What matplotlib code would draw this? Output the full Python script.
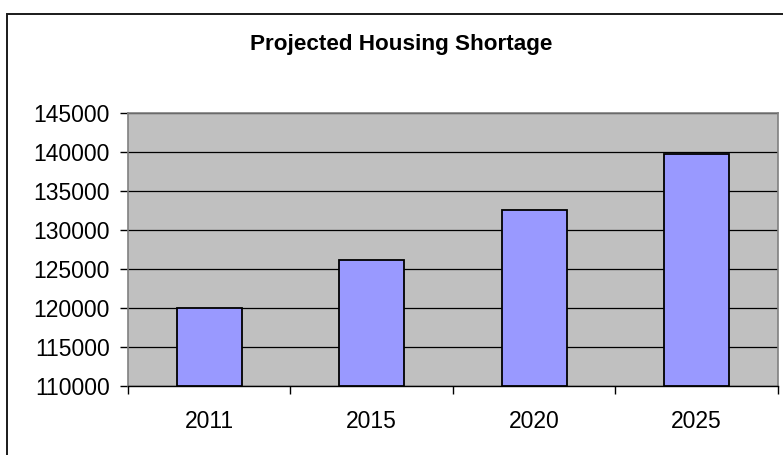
import matplotlib
matplotlib.use("Agg")
from matplotlib import pyplot as plt
from matplotlib.patches import Rectangle
from matplotlib.ticker import FixedLocator, NullFormatter

years = ["2011", "2015", "2020", "2025"]
shortage = [120000, 126150, 132600, 139750]
y_ticks = [110000, 115000, 120000, 125000, 130000, 135000, 140000, 145000]

BAR_COLOR = "#9999FF"
PLOT_BG = "#C0C0C0"

plt.rcParams["font.family"] = ["Liberation Sans", "DejaVu Sans"]

fig = plt.figure(figsize=(7.83, 4.55), dpi=100)
ax = fig.add_axes([0.1635, 0.1516, 0.83, 0.6])

# chart area frame (runs off the right and bottom edges)
fig.patches.append(Rectangle((7 / 783, -0.2), 1.2, 0.2 + (455 - 14) / 455,
                             transform=fig.transFigure, fill=False,
                             edgecolor="#1a1a1a", linewidth=1.4))

x = list(range(len(years)))
ax.set_facecolor(PLOT_BG)
ax.bar(x, [v - y_ticks[0] for v in shortage], bottom=y_ticks[0], width=0.4,
       color=BAR_COLOR, edgecolor="black", linewidth=1.3, zorder=3)

ax.set_ylim(y_ticks[0], y_ticks[-1])
ax.set_xlim(-0.5, len(years) - 0.5)
ax.set_yticks(y_ticks)
ax.set_yticklabels([str(t) for t in y_ticks])
ax.yaxis.grid(True, color="black", linewidth=0.9, zorder=1)

# ticks between categories, labels centred under the bars
ax.xaxis.set_major_locator(FixedLocator([i - 0.5 for i in range(len(years) + 1)]))
ax.xaxis.set_major_formatter(NullFormatter())
ax.xaxis.set_minor_locator(FixedLocator(x))
ax.set_xticklabels(years, minor=True)
ax.tick_params(axis="x", which="major", length=6, width=1, color="black")
ax.tick_params(axis="x", which="minor", length=0, pad=17, labelsize=16.5)
ax.tick_params(axis="y", length=6, width=1, color="black", pad=7, labelsize=16.5)

for side in ("top", "right", "left"):
    ax.spines[side].set_color("#808080")
    ax.spines[side].set_linewidth(1.2)
ax.spines["bottom"].set_color("black")
ax.spines["bottom"].set_linewidth(1.0)

fig.text(0.512, 1 - 50 / 455, "Projected Housing Shortage", ha="center",
         va="baseline", fontsize=16.2, fontweight="bold")

fig.savefig("out.png", dpi=100)
